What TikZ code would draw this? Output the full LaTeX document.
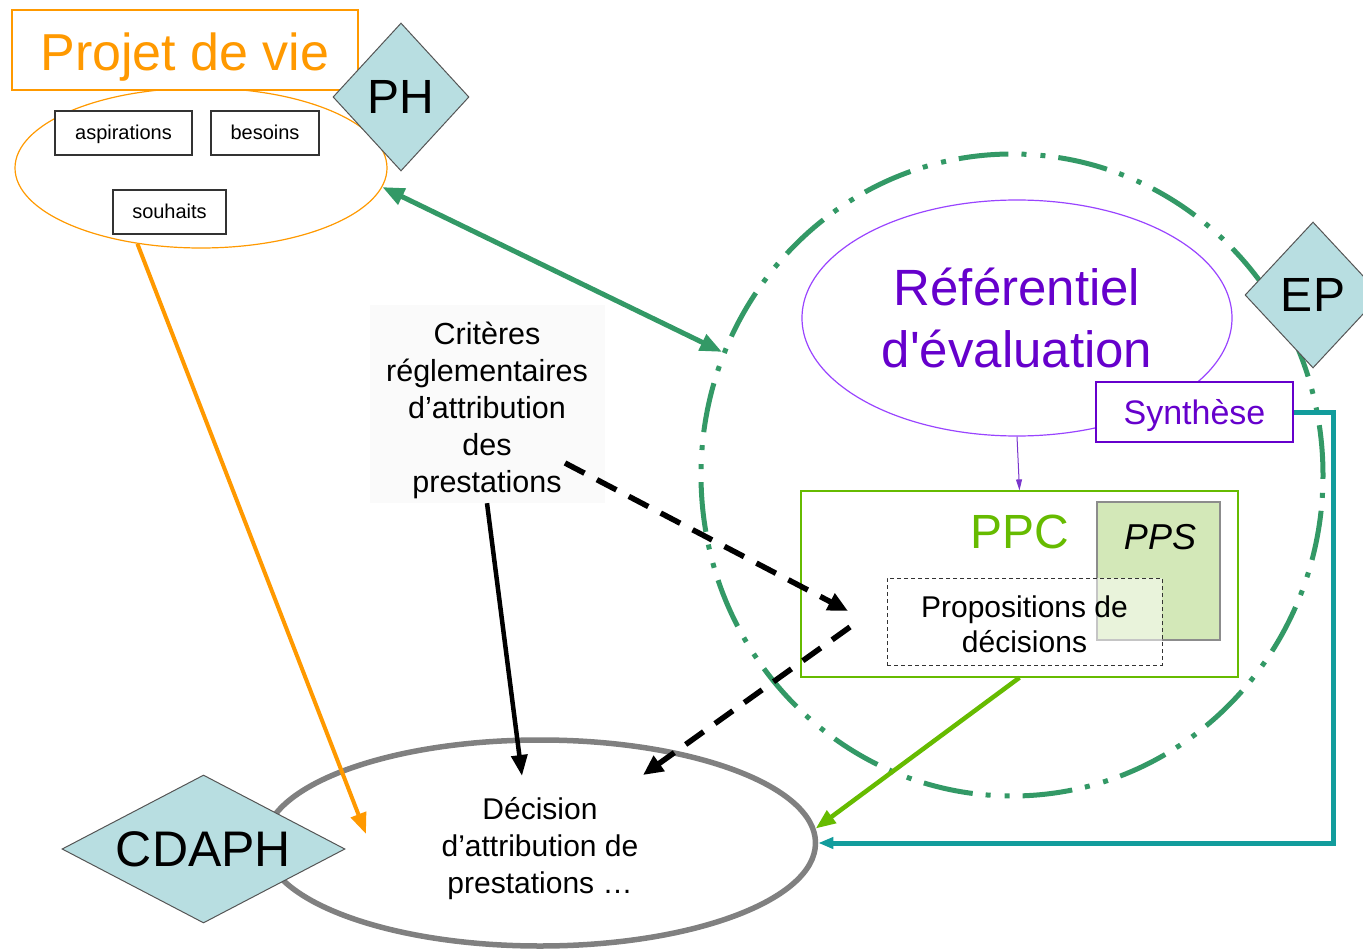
\documentclass[tikz,border=0pt]{standalone}
\usepackage{fontspec}
\newfontfamily\arialf{Liberation Sans}
\usetikzlibrary{shapes.geometric,arrows.meta}
\definecolor{orng}{HTML}{FF9900}
\definecolor{sgreen}{HTML}{339966}
\definecolor{purp}{HTML}{9944FF}
\definecolor{dpurp}{HTML}{6600CC}
\definecolor{pgreen}{HTML}{66BB00}
\definecolor{ppsfill}{HTML}{D3E8B8}
\definecolor{dia}{HTML}{B8DEE1}
\definecolor{dgray}{HTML}{555555}
\definecolor{tealc}{HTML}{129C9C}
\definecolor{grayc}{HTML}{808080}
\newcommand\lowered[2]{\raisebox{-#1}[\height][\depth]{#2}}
\begin{document}
\begin{tikzpicture}[x=1pt,y=-1pt,
  every node/.style={font=\arialf},
  diam/.style={diamond, draw=dgray, fill=dia, line width=1pt, inner sep=0pt},
  smallbox/.style={draw=black!80, fill=white, line width=1.2pt, minimum height=44pt, inner sep=0pt, text height=17pt, text depth=3pt, font=\arialf\fontsize{20}{23}\selectfont},
  tip/.style={-{Triangle[length=#1pt,width=0.75*#1pt]}}
]
\useasboundingbox (0,0) rectangle (1363,952);

% --- life project ---
\node[draw=orng, line width=1.2pt, ellipse, minimum width=372pt, minimum height=160pt, inner sep=0pt] (pv) at (201,168) {};
\node[draw=orng, fill=white, line width=1.2pt, minimum width=346pt, minimum height=80pt, inner sep=0pt, text depth=0pt, text=orng, font=\arialf\fontsize{52}{60}\selectfont] (pvt) at (185,50) {\lowered{2pt}{Projet de vie}};
\node[smallbox, minimum width=137pt] (asp) at (123.5,133) {aspirations};
\node[smallbox, minimum width=108pt] (bes) at (265,133) {besoins};
\node[smallbox, minimum width=113pt] (sou) at (169.5,212) {souhaits};
\node[diam, minimum width=136pt, minimum height=148pt, shape aspect=0.92, font=\arialf\fontsize{48}{56}\selectfont] (ph) at (401,97) {PH};

% --- evaluation team circle ---
\node[ellipse, draw=sgreen, line width=5pt, dash pattern=on 50pt off 13pt on 5pt off 14pt on 5pt off 13pt, minimum width=622pt, minimum height=642pt, inner sep=0pt] (ev) at (1012,475) {};
\node[ellipse, draw=purp, line width=1.2pt, minimum width=430pt, minimum height=236pt, inner sep=0pt, text=dpurp, align=center, font=\arialf\fontsize{51}{62}\selectfont] (ref) at (1017,318) {Référentiel\\d'évaluation};
\node[draw=dpurp, fill=white, line width=1.2pt, minimum width=197pt, minimum height=60pt, inner sep=0pt, text depth=0pt, text=dpurp, font=\arialf\fontsize{34}{40}\selectfont] (syn) at (1194.5,412) {Synthèse};
\node[diam, minimum width=136pt, minimum height=146pt, shape aspect=0.92, font=\arialf\fontsize{48}{56}\selectfont] (ep) at (1313,295) {EP};

\node[draw=pgreen, line width=1.2pt, minimum width=437pt, minimum height=186pt, inner sep=0pt] (ppc) at (1019.5,584) {};
\node[text=pgreen, inner sep=0pt, font=\arialf\fontsize{48}{56}\selectfont] (ppct) at (1020,532) {PPC};
\node[draw=gray!90, fill=ppsfill, line width=1.2pt, minimum width=123pt, minimum height=138pt, inner sep=0pt] (pps) at (1158.5,571) {};
\node[inner sep=0pt, font=\arialf\itshape\fontsize{36}{42}\selectfont] (ppst) at (1160,537) {PPS};
\node[draw=black!80, dash pattern=on 4pt off 3pt, line width=1pt, fill=white, fill opacity=0.5, text opacity=1, minimum width=275pt, minimum height=87pt, inner sep=0pt, font=\arialf\fontsize{30}{35}\selectfont] (prop) at (1024.5,621.5) {\lowered{2.5pt}{\parbox{260pt}{\centering Propositions de\\décisions}}};

% --- criteria ---
\node[fill=black!2, minimum width=235pt, minimum height=198pt, inner sep=0pt, font=\arialf\fontsize{30.5}{37}\selectfont] (crit) at (487,404) {\lowered{6pt}{\parbox{230pt}{\centering Critères\\réglementaires\\d’attribution\\des\\prestations}}};

% --- decision ---
\node[ellipse, draw=grayc, fill=white, line width=5.5pt, minimum width=551pt, minimum height=206pt, inner sep=0pt, font=\arialf\fontsize{30}{37}\selectfont] (dec) at (540,843) {\lowered{6pt}{\parbox{300pt}{\centering Décision\\d’attribution de\\prestations …}}};
\node[diam, minimum width=283pt, minimum height=148pt, shape aspect=1.9, font=\arialf\fontsize{50}{58}\selectfont] (cd) at (203.5,849) {CDAPH};

% --- free ends ---
\coordinate (oend) at (366,834);
\coordinate (bend) at (522,776);
\coordinate (d1s) at (565,463);
\coordinate (d1e) at (848,611);
\coordinate (d2s) at (850,627);
\coordinate (d2e) at (643,775);

% --- connectors ---
\draw[sgreen, line width=5pt, {Triangle[length=22pt,width=17pt]}-{Triangle[length=22pt,width=17pt]}] (pv.-6) -- (ev.157);
\draw[orng, line width=4pt, tip=21] (pv.-130) -- (oend);
\draw[black, line width=4.5pt, tip=21] (crit.south) -- (bend);
\draw[black, line width=5.5pt, dash pattern=on 22pt off 14pt, -{Triangle[length=20pt,width=18pt]}] (d1s) -- (d1e);
\draw[black, line width=5.5pt, dash pattern=on 22pt off 14pt, -{Triangle[length=20pt,width=18pt]}] (d2s) -- (d2e);
\draw[purp!80!black, line width=1pt, -{Triangle[length=11pt,width=6pt]}] (ref.south) -- (ppc.north);
\draw[pgreen, line width=4.5pt, tip=20] (ppc.south) -- (dec.3);
\draw[tealc, line width=5pt, -{Triangle[length=15pt,width=11pt]}] (syn.east) -- ++(40,0) |- (dec.east);
\end{tikzpicture}
\end{document}
